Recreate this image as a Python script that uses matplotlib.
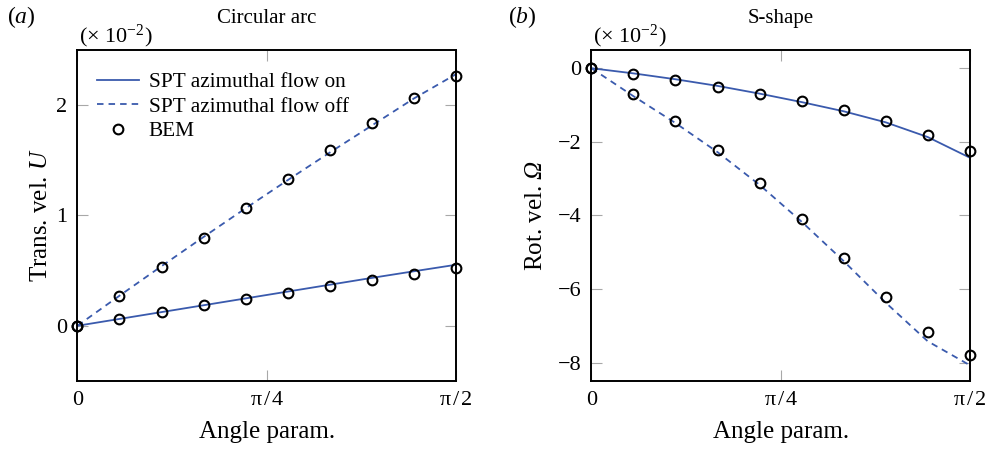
import numpy as np
import matplotlib
matplotlib.use("Agg")
import matplotlib.pyplot as plt
from matplotlib.lines import Line2D

plt.rcParams['font.family'] = ['Liberation Serif', 'DejaVu Serif']
plt.rcParams['mathtext.fontset'] = 'custom'
plt.rcParams['mathtext.rm'] = 'Liberation Serif'
plt.rcParams['mathtext.it'] = 'Liberation Serif:italic'
# used only for the italic capital Omega (mathtext keeps Greek capitals upright in \mathit)
plt.rcParams['mathtext.sf'] = 'Liberation Serif:italic'

# angle parameter samples (k * pi/18, k = 0..9)
angle = np.arange(10) * np.pi / 18

# (a) circular arc, translational velocity (x 1e-2)
arc_spt_on = [0, 0.062, 0.124, 0.186, 0.248, 0.310, 0.372, 0.434, 0.494, 0.553]
arc_spt_off = [0, 0.272, 0.540, 0.805, 1.065, 1.320, 1.570, 1.815, 2.060, 2.280]
arc_bem_on = [0, 0.060, 0.121, 0.184, 0.245, 0.299, 0.360, 0.417, 0.468, 0.523]
arc_bem_off = [0, 0.269, 0.532, 0.798, 1.064, 1.330, 1.589, 1.837, 2.064, 2.260]

# (b) S-shape, rotational velocity (x 1e-2)
s_spt_on = [0, -0.14, -0.30, -0.48, -0.69, -0.92, -1.17, -1.47, -1.87, -2.43]
s_spt_off = [0, -0.76, -1.49, -2.28, -3.17, -4.17, -5.24, -6.37, -7.42, -8.07]
s_bem_on = [0, -0.154, -0.326, -0.498, -0.689, -0.897, -1.142, -1.441, -1.804, -2.239]
s_bem_off = [0, -0.707, -1.423, -2.230, -3.110, -4.107, -5.159, -6.228, -7.171, -7.797]

xtick_labels = ['0', 'π\u200a/\u200a4', 'π\u200a/\u200a2']
blue = '#3a5aad'
dash = (3.6, 2.8)

fig = plt.figure(figsize=(9.89, 4.53), dpi=100)
ax_a = fig.add_axes([0.0782, 0.159, 0.383, 0.731])
ax_b = fig.add_axes([0.598, 0.159, 0.3825, 0.731])


def draw_panel(ax, spt_on, spt_off, bem_on, bem_off):
    ax.plot(angle, spt_on, color=blue, lw=1.3, label='SPT azimuthal flow on')
    ax.plot(angle, spt_off, color=blue, lw=1.3, dashes=dash,
            label='SPT azimuthal flow off')
    ax.plot(angle, bem_on, 'o', ms=7, mfc='none', mec='black', mew=1.5,
            clip_on=False, label='BEM')
    ax.plot(angle, bem_off, 'o', ms=7, mfc='none', mec='black', mew=1.5,
            clip_on=False)
    ax.set_xlim(0, np.pi / 2)
    ax.set_xticks([0, np.pi / 4, np.pi / 2])
    ax.set_xticklabels(xtick_labels)
    ax.tick_params(direction='in', length=8, width=0.8, color='#a8a8a8',
                   top=True, right=True, labelsize=16, pad=7)
    for sp in ax.spines.values():
        sp.set_linewidth(1.4)
    ax.set_xlabel('Angle param.', fontsize=18, labelpad=8)
    ax.text(0.005, 1.0, r'($\times$ 10$^{-2}$)', transform=ax.transAxes,
            fontsize=16, ha='left', va='bottom')


draw_panel(ax_a, arc_spt_on, arc_spt_off, arc_bem_on, arc_bem_off)
ax_a.set_ylim(-0.5, 2.5)
ax_a.set_yticks([0, 1, 2])
ax_a.set_ylabel('Trans. vel. $U$', fontsize=18, labelpad=3)
ax_a.set_title('Circular arc', fontsize=15, pad=19)
ax_a.legend(handles=[
    Line2D([], [], color=blue, lw=1.3),
    Line2D([], [], color=blue, lw=1.3, dashes=dash),
    Line2D([], [], ls='none', marker='o', ms=7, mfc='none', mec='black', mew=1.5)],
    labels=['SPT azimuthal flow on', 'SPT azimuthal flow off', 'BEM'],
    loc='upper left', bbox_to_anchor=(0.029, 0.958), frameon=False, fontsize=15.3,
    handlelength=2.0, handletextpad=0.45, labelspacing=0.22, borderaxespad=0)

draw_panel(ax_b, s_spt_on, s_spt_off, s_bem_on, s_bem_off)
ax_b.set_ylim(-8.5, 0.5)
ax_b.set_yticks([0, -2, -4, -6, -8])
ax_b.set_yticklabels(['0', '−2', '−4', '−6', '−8'])
ax_b.set_ylabel(r'Rot. vel. $\mathsf{Ω}$', fontsize=18, labelpad=8)
ax_b.set_title('S-shape', fontsize=15, pad=19)

fig.text(0.007, 0.962, '($a$)', fontsize=17, ha='left', va='center')
fig.text(0.514, 0.962, '($b$)', fontsize=17, ha='left', va='center')

fig.savefig('out.png', dpi=100)
